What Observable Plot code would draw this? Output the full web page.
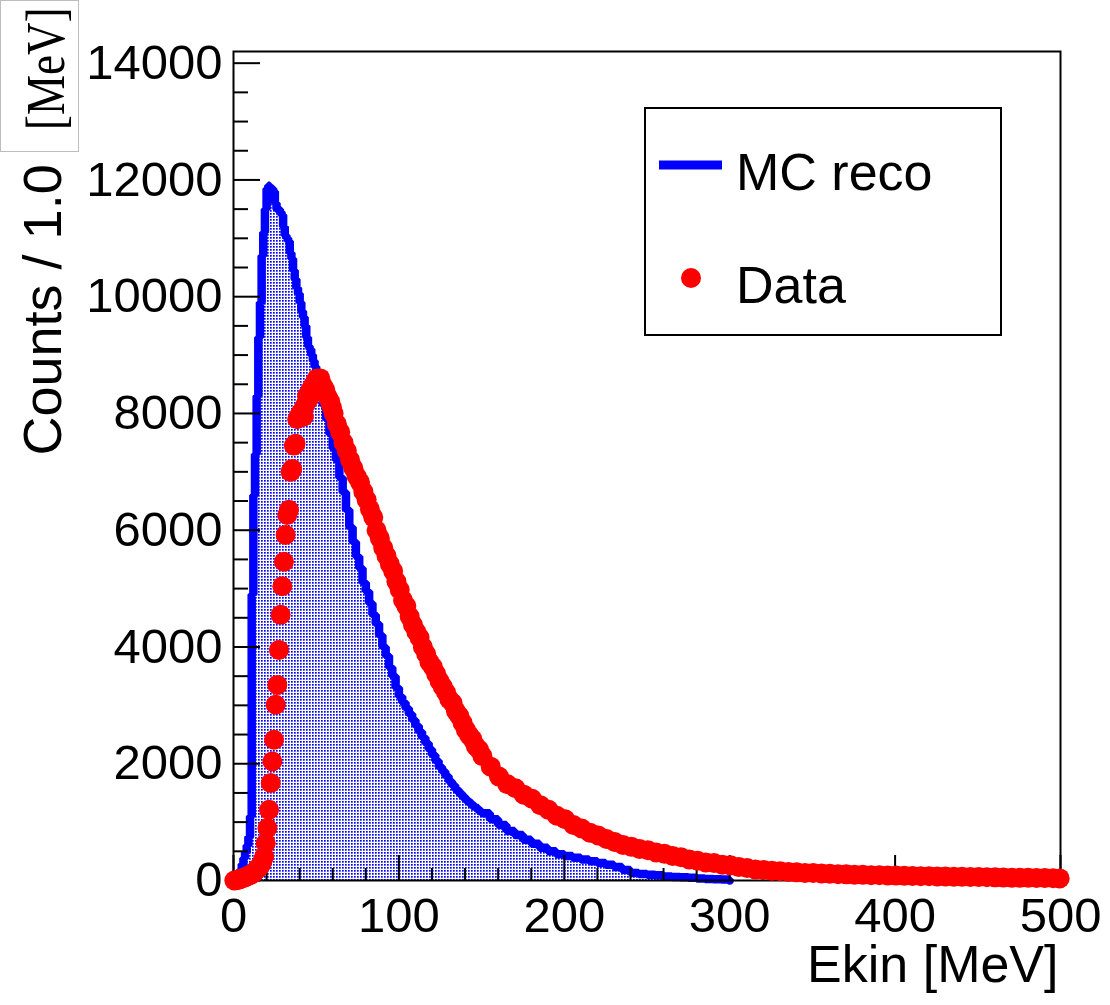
<!DOCTYPE html>
<html>
<head>
<meta charset="utf-8">
<script src="https://cdn.jsdelivr.net/npm/d3@7"></script>
<script src="https://cdn.jsdelivr.net/npm/@observablehq/plot@0.6"></script>
<style>
  html, body { margin: 0; padding: 0; background: #fff; }
  #wrap { position: relative; width: 1110px; height: 1005px; overflow: hidden; }
  #unitbox { position: absolute; left: 0; top: 0; width: 79px; height: 152px; box-sizing: border-box; border: 1px solid #bdbdbd; }
  #legend { position: absolute; left: 644px; top: 107px; }
</style>
</head>
<body>
<div id="wrap"><div id="unitbox"></div></div>
<script>
// ---------------- data ----------------
// MC reco histogram: bin lower edges [MeV] and counts
const mcE = [
  0,1,2,3,4,5,6,7,8,9,10,11,12,13,14,15,16,17,18,19,20,21,22,23,24,25,26,27,28,29,30,
  31,32,33,34,35,36,37,38,39,40,41,42,43,44,45,46,47,48,49,50,
  52,54,56,58,60,62,64,66,68,70,72,74,76,78,80,82,84,86,88,90,92,94,96,98,100,
  102,104,106,108,110,112,114,116,118,120,122,124,126,128,130,132,134,136,138,140,
  142,144,146,148,150,155,160,165,170,175,180,185,190,195,200,
  205,210,215,220,225,230,235,240,245,250,255,260,265,270,275,280,285,290,295,300
];
const mcCounts = [
  0,0,20,80,180,280,380,480,600,750,1100,4900,6600,7300,8300,9300,9900,10700,11100,11500,11850,11900,11850,11850,11800,11600,11500,11500,11450,11400,11200,
  11050,11000,10950,10750,10650,10450,10300,10150,10050,9900,9750,9650,9500,9300,9150,9100,9000,8900,8800,8650,
  8400,8150,7900,7650,7400,7200,6900,6650,6350,6050,5800,5550,5350,5100,4950,4750,4550,4400,4200,4000,3850,3650,3500,3300,3150,
  3050,2950,2850,2750,2650,2550,2450,2350,2250,2150,2050,1950,1870,1790,1700,1630,1560,1500,1440,1380,
  1330,1280,1240,1190,1150,1050,950,850,780,700,630,560,500,450,420,
  390,360,330,300,270,230,180,130,110,100,90,70,60,55,45,35,25,20,15,0
];

// Data: bin centres [MeV] and counts
const dataE = [
  0.5,1.5,2.5,3.5,4.5,5.5,6.5,7.5,8.5,9.5,10.5,11.5,12.5,13.5,14.5,15.5,16.5,17.5,18.5,19.5,
  20.5,21.5,22.5,23.5,24.5,25.5,26.5,27.5,28.5,29.5,30.5,31.5,32.5,33.5,34.5,35.5,36.5,37.5,38.5,39.5,
  40.5,41.5,42.5,43.5,44.5,45.5,46.5,47.5,48.5,49.5,50.5,51.5,52.5,53.5,54.5,55.5,56.5,57.5,58.5,59.5,
  60.5,62.5,64.5,66.5,68.5,70.5,72.5,74.5,76.5,78.5,80.5,82.5,84.5,86.5,88.5,90.5,92.5,94.5,96.5,98.5,
  100.5,102.5,104.5,106.5,108.5,110.5,112.5,114.5,116.5,118.5,120.5,122.5,124.5,126.5,128.5,130.5,
  132.5,134.5,136.5,138.5,140.5,142.5,144.5,146.5,148.5,150.5,
  155.5,160.5,165.5,170.5,175.5,180.5,185.5,190.5,195.5,200.5,205.5,210.5,215.5,220.5,225.5,230.5,
  235.5,240.5,245.5,250.5,255.5,260.5,265.5,270.5,275.5,280.5,285.5,290.5,295.5,300.5,305.5,310.5,
  315.5,320.5,325.5,330.5,335.5,340.5,345.5,350.5,355.5,360.5,365.5,370.5,375.5,380.5,385.5,390.5,
  395.5,400.5,405.5,410.5,415.5,420.5,425.5,430.5,435.5,440.5,445.5,450.5,455.5,460.5,465.5,470.5,
  475.5,480.5,485.5,490.5,495.5,499.5
];
const dataCounts = [
  0,5,10,20,30,40,50,60,75,90,100,120,140,170,200,230,270,330,410,640,
  900,1210,1670,2040,2410,3010,3350,3950,4550,5040,5460,5920,6260,6350,7000,7050,7450,7480,7900,7950,
  8000,8050,7950,8150,8300,8250,8400,8450,8500,8550,8600,8550,8600,8500,8450,8400,8300,8250,8200,8100,
  8000,7820,7680,7500,7360,7200,7060,6920,6820,6660,6520,6360,6220,6000,5860,5700,5560,5420,5300,5120,
  4980,4800,4700,4520,4380,4260,4160,4000,3880,3740,3660,3540,3420,3320,3220,3100,
  3040,2900,2820,2700,2580,2490,2420,2300,2240,2130,
  1950,1780,1650,1580,1470,1400,1290,1210,1110,1050,950,890,820,770,710,660,
  610,580,540,520,480,460,420,400,360,340,310,300,270,260,230,215,
  190,180,165,160,145,140,130,128,120,115,108,106,100,97,92,90,
  85,84,80,78,74,73,70,68,64,63,60,59,55,54,50,49,
  46,45,42,41,38,36
];

// Axis ticks
const xMajor = [0, 100, 200, 300, 400, 500];
const xMinor = d3.range(0, 501, 20).filter(v => v % 100 !== 0);
const yMajor = [0, 2000, 4000, 6000, 8000, 10000, 12000, 14000];
const yMinor = d3.range(0, 14001, 500).filter(v => v % 2000 !== 0);

const legendLabels = ["MC reco", "Data"];
const xTitle = "Ekin [MeV]";
const yTitle = "Counts / 1.0";
const yUnit = "[MeV]";

// ---------------- build ----------------
const mc = mcE.map((e, i) => ({e, c: mcCounts[i]}));
const data = dataE.map((e, i) => ({e, c: dataCounts[i]}));

const SANS = "'Liberation Sans', Arial, Helvetica, sans-serif";
const SERIF = "'Liberation Serif', 'Times New Roman', serif";

const tickOpts = (size) => ({tickSize: size, fill: "none", stroke: "black", strokeWidth: 2, label: null});

const svg = Plot.plot({
  width: 1110,
  height: 1005,
  marginLeft: 233,
  marginRight: 50,
  marginTop: 51,
  marginBottom: 125,
  style: {fontFamily: SANS, background: "transparent", overflow: "visible", color: "black"},
  x: {domain: [0, 500]},
  y: {domain: [0, 14200]},
  marks: [
    Plot.areaY(mc, {x: "e", y: "c", curve: "step-after", fill: "url(#mcdots)"}),
    Plot.lineY(mc, {x: "e", y: "c", curve: "step-after", stroke: "#0000ff", strokeWidth: 8.5, strokeLinejoin: "miter"}),
    Plot.frame({stroke: "black", strokeWidth: 2}),
    Plot.axisX(xMajor, tickOpts(-25)),
    Plot.axisX(xMinor, tickOpts(-12)),
    Plot.axisY(yMajor, tickOpts(-27)),
    Plot.axisY(yMinor, tickOpts(-15)),
    Plot.dot(data, {x: "e", y: "c", r: 10, fill: "#ff0000", stroke: "none"}),
    Plot.axisX(xMajor, {tickSize: 0, tickPadding: 17, fontSize: 49, fill: "black", label: null, tickFormat: d => String(d)}),
    Plot.axisY(yMajor, {tickSize: 0, tickPadding: 11, fontSize: 49, fill: "black", label: null, tickFormat: d => String(d)}),
    Plot.text([xTitle], {frameAnchor: "bottom-right", textAnchor: "end", fontSize: 52, dx: -2, dy: 101, fill: "black"}),
    Plot.text([yTitle], {frameAnchor: "left", rotate: -90, textAnchor: "start", fontSize: 54, dx: -190, dy: -10.5, fill: "black"}),
    Plot.text([yUnit], {frameAnchor: "left", rotate: -90, textAnchor: "start", fontSize: 45, fontFamily: SERIF, dx: -187.5, dy: -336, fill: "black"})
  ]
});

// taller glyphs for the serif unit label, like the reference rendering
svg.querySelectorAll("text").forEach(t => {
  if (t.textContent === yUnit) {
    const tr = t.getAttribute("transform") || "";
    t.setAttribute("transform", tr + " scale(1,1.22)");
  }
});

// dotted fill pattern (ROOT-like)
const NS = "http://www.w3.org/2000/svg";
const defs = document.createElementNS(NS, "defs");
defs.innerHTML = '<pattern id="mcdots" width="3" height="3" patternUnits="userSpaceOnUse">' +
  '<rect x="0" y="0" width="1.7" height="1.7" fill="#0000ff"/></pattern>';
svg.insertBefore(defs, svg.firstChild);
svg.style.position = "absolute";
svg.style.left = "0px";
svg.style.top = "0px";

const wrap = document.getElementById("wrap");
wrap.appendChild(svg);

// legend box
const leg = document.createElementNS(NS, "svg");
leg.setAttribute("id", "legend");
leg.setAttribute("width", 358);
leg.setAttribute("height", 229);
leg.innerHTML =
  '<rect x="1" y="1" width="356" height="227" fill="white" stroke="black" stroke-width="2"/>' +
  '<line x1="15" x2="78" y1="58" y2="58" stroke="#0000ff" stroke-width="9"/>' +
  `<text x="92" y="83" font-family="${SANS.replace(/'/g, "")}" font-size="52" fill="black">${legendLabels[0]}</text>` +
  '<circle cx="47" cy="171" r="10" fill="#ff0000"/>' +
  `<text x="92" y="196" font-family="${SANS.replace(/'/g, "")}" font-size="52" fill="black">${legendLabels[1]}</text>`;
wrap.appendChild(leg);
</script>
</body>
</html>
